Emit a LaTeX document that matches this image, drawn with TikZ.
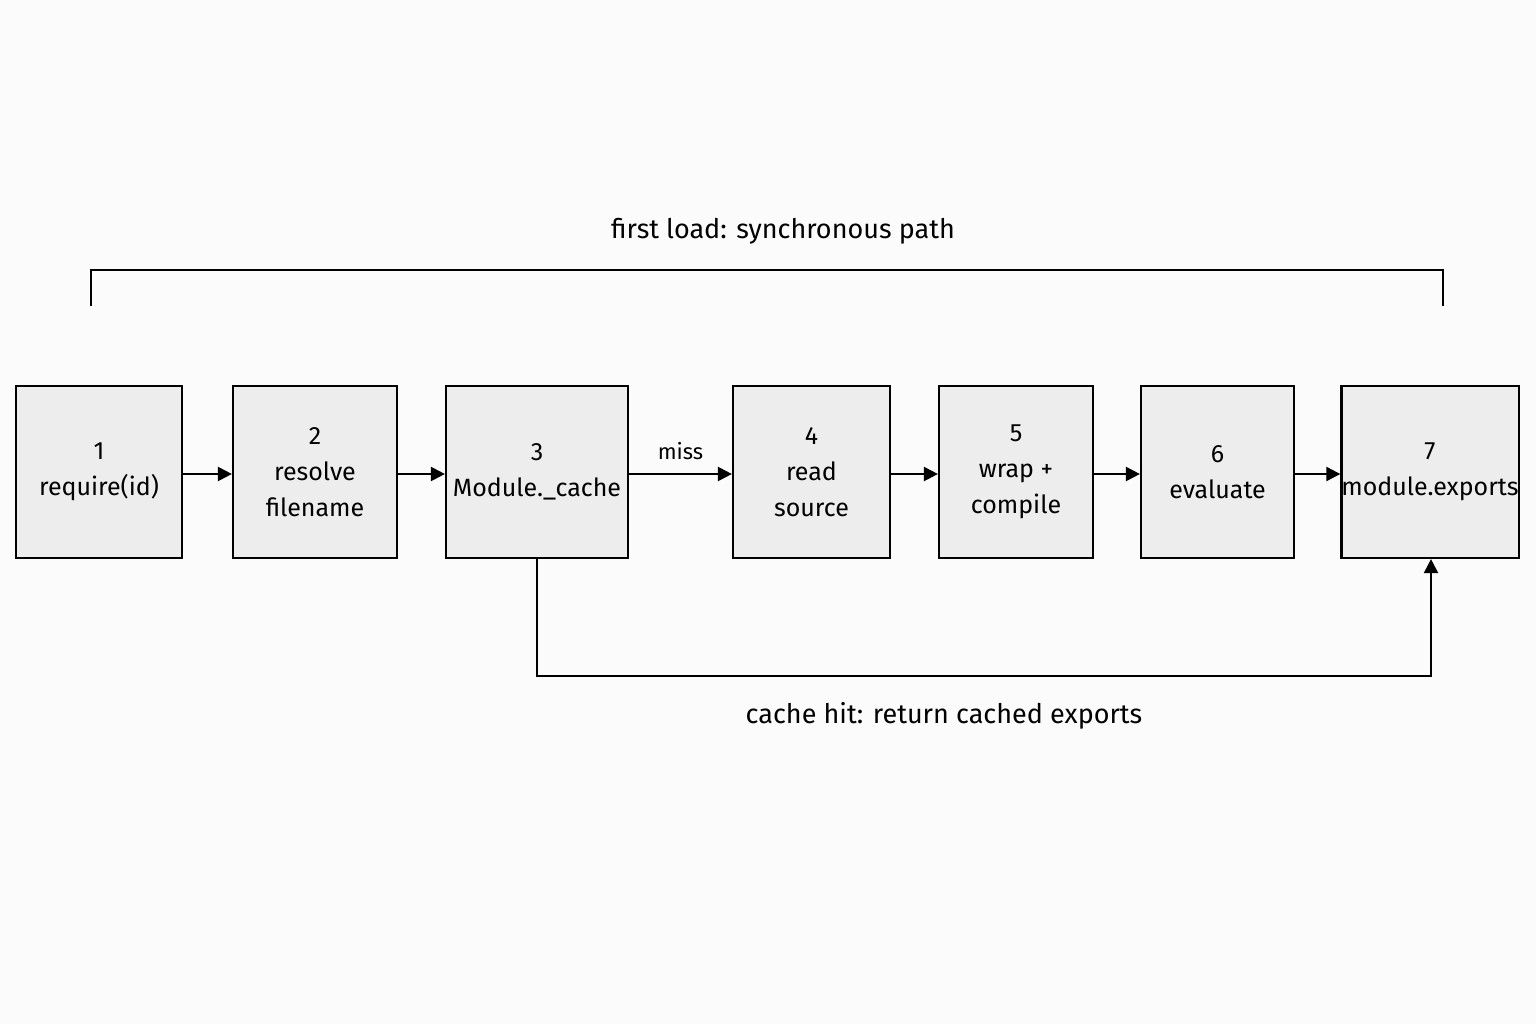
\documentclass[tikz,border=0pt]{standalone}
\usepackage{fontspec}
\setmainfont{Fira Sans}
\usetikzlibrary{arrows.meta}
\begin{document}
\begin{tikzpicture}[x=1pt,y=-1pt,
  box/.style={draw=black,line width=2.2pt,fill=gray!14,minimum height=172pt,inner sep=0pt,align=center,font=\fontsize{25}{36}\selectfont},
  arr/.style={line width=2.2pt,-{Triangle[length=14pt,width=14pt]}},
  lbl/.style={font=\fontsize{27}{32}\selectfont}]
\fill[gray!3] (0,0) rectangle (1536,1024);
\useasboundingbox (0,0) rectangle (1536,1024);
\node[box,minimum width=166pt] (b1) at (99,472) {1\\require(id)};
\node[box,minimum width=164pt] (b2) at (315,472) {2\\resolve\\filename};
\node[box,minimum width=182pt] (b3) at (537,472) {3\\Module.\_cache};
\node[box,minimum width=157pt] (b4) at (811.5,472) {4\\read\\source};
\node[box,minimum width=154pt] (b5) at (1016,472) {5\\wrap +\\compile};
\node[box,minimum width=153pt] (b6) at (1217.5,472) {6\\evaluate};
\node[box,minimum width=176pt] (b7) at (1430,472) {7\\module.exports};
\draw[arr] (b1.east|-0,474) -- (b2.west|-0,474);
\draw[arr] (b2.east|-0,474) -- (b3.west|-0,474);
\draw[arr] (b3.east|-0,474) -- node[above=10pt,font=\fontsize{22}{26}\selectfont] (miss) {miss} (b4.west|-0,474);
\draw[arr] (b4.east|-0,474) -- (b5.west|-0,474);
\draw[arr] (b5.east|-0,474) -- (b6.west|-0,474);
\draw[arr] (b6.east|-0,474) -- (b7.west|-0,474);
\coordinate (c1) at (537,676);
\coordinate (c2) at (1431,676);
\draw[arr] (b3.south) -- (c1) -- (c2) -- (b7.south-|c2);
\node[lbl] (hit) at (944,716) {cache hit: return cached exports};
\coordinate (t1) at (91,306); \coordinate (t2) at (1443,306);
\draw[line width=2.2pt] (t1) -- (91,270) -- (1443,270) -- (t2);
\node[lbl] (title) at (783,231) {first load: synchronous path};
\end{tikzpicture}
\end{document}
